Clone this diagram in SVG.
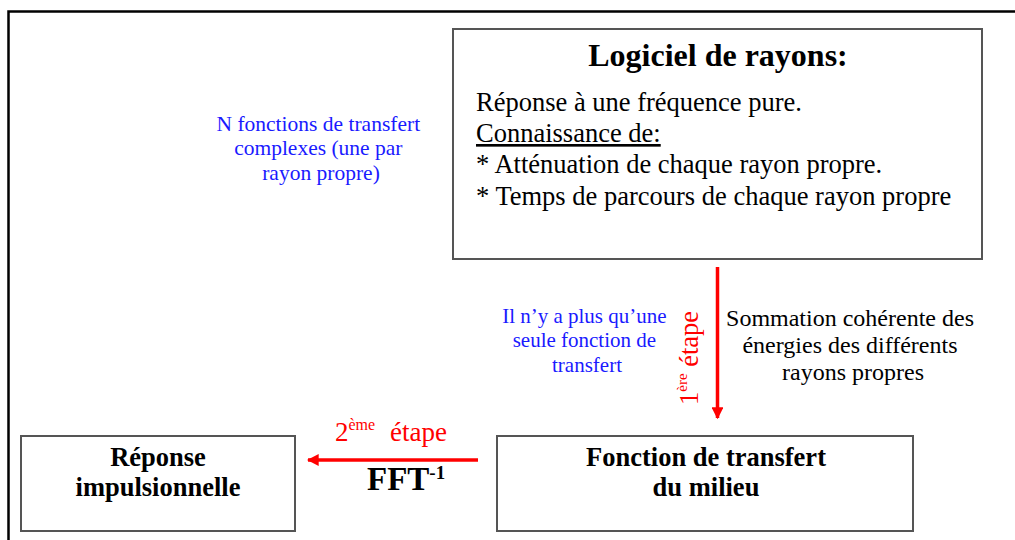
<svg xmlns="http://www.w3.org/2000/svg" width="1015" height="540" viewBox="0 0 1015 540">
<defs>
<style>
.box{fill:#fff;stroke:#555;stroke-width:2}
.t{font-family:"Liberation Serif","Times New Roman",serif}
.b{font-weight:bold}
.blue{fill:#1a1aff}
.red{fill:#ff0000}
.conn{stroke:#ff0000;stroke-width:3.5;fill:none}
</style>
<marker id="ah" viewBox="0 0 10 10" refX="9" refY="5" markerWidth="3.4" markerHeight="3.4" orient="auto" markerUnits="strokeWidth">
<path d="M0,0 L10,5 L0,10 z" fill="#ff0000"/>
</marker>
</defs>
<rect width="1015" height="540" fill="#fff"/>
<path d="M8.5,545 V11.5 H1020" fill="none" stroke="#000" stroke-width="2.5"/>
<g id="logiciel">
<rect class="box" x="453" y="29" width="529" height="230"/>
<text class="t b" x="718" y="66" font-size="32" text-anchor="middle">Logiciel de rayons:</text>
<text class="t" x="476" y="111" font-size="26.5">Réponse à une fréquence pure.</text>
<text class="t" x="476" y="142" font-size="26.5" text-decoration="underline">Connaissance de:</text>
<text class="t" x="476" y="173" font-size="26.5">* Atténuation de chaque rayon propre.</text>
<text class="t" x="476" y="205" font-size="26.5">* Temps de parcours de chaque rayon propre</text>
</g>
<g id="reponse">
<rect class="box" x="21" y="436" width="274" height="95"/>
<text class="t b" x="158" y="466" font-size="26.5" text-anchor="middle">Réponse</text>
<text class="t b" x="158" y="496" font-size="26.5" text-anchor="middle">impulsionnelle</text>
</g>
<g id="fonction">
<rect class="box" x="497" y="436" width="416" height="95"/>
<text class="t b" x="706" y="466" font-size="26.5" text-anchor="middle">Fonction de transfert</text>
<text class="t b" x="706" y="496" font-size="26.5" text-anchor="middle">du milieu</text>
</g>
<g id="connectors">
<line class="conn" x1="717.5" y1="267" x2="717.5" y2="418" marker-end="url(#ah)"/>
<line class="conn" x1="478" y1="460" x2="308" y2="460" marker-end="url(#ah)"/>
</g>
<g id="labels">
<text class="t blue" font-size="21.5" text-anchor="middle">
<tspan x="321" y="131">N fonctions de transfert</tspan>
<tspan x="321" y="155">complexes (une par</tspan>
<tspan x="321" y="180">rayon propre)</tspan>
</text>
<text class="t blue" font-size="21" text-anchor="middle">
<tspan x="587" y="323">Il n’y a plus qu’une</tspan>
<tspan x="587" y="347">seule fonction de</tspan>
<tspan x="587" y="372">transfert</tspan>
</text>
<text class="t" font-size="24" text-anchor="middle">
<tspan x="853" y="326">Sommation cohérente des</tspan>
<tspan x="853" y="353">énergies des différents</tspan>
<tspan x="853" y="380">rayons propres</tspan>
</text>
<text class="t red" font-size="26.5" transform="translate(698,405) rotate(-90)">1<tspan font-size="15" dy="-11">ère</tspan><tspan dy="11"> étape</tspan></text>
<text class="t red" font-size="27" x="335" y="441">2<tspan font-size="16" dy="-11">ème</tspan><tspan dy="11" x="390">étape</tspan></text>
<text class="t b" font-size="33" x="367" y="490">FFT<tspan font-size="19" dy="-11">-1</tspan></text>
</g>
</svg>
